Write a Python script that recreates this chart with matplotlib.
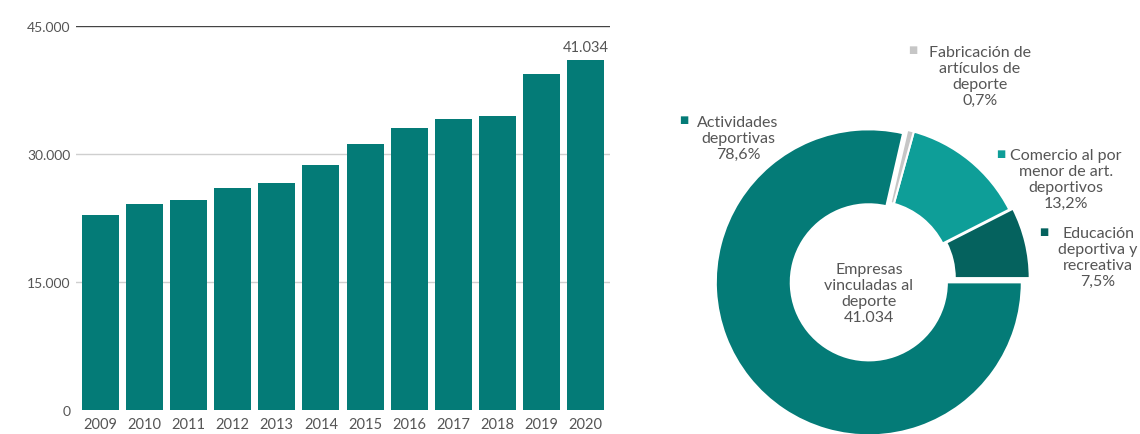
import matplotlib
matplotlib.use('Agg')
import matplotlib.pyplot as plt
from matplotlib.ticker import FuncFormatter

plt.rcParams['font.family'] = ['Lato', 'DejaVu Sans']

# datos
years = ['2009', '2010', '2011', '2012', '2013', '2014',
         '2015', '2016', '2017', '2018', '2019', '2020']
empresas = [22870, 24110, 24660, 25980, 26650, 28710,
            31130, 33070, 34160, 34510, 39420, 41034]
yticks = [0, 15000, 30000, 45000]

sectores = ['Educación\ndeportiva y\nrecreativa\n7,5%',
            'Comercio al por\nmenor de art.\ndeportivos\n13,2%',
            'Fabricación de\nartículos de\ndeporte\n0,7%',
            'Actividades\ndeportivas\n78,6%']
pct = [7.5, 13.2, 0.7, 78.6]
total_txt = 'Empresas\nvinculadas al\ndeporte\n41.034'

teal = '#047B77'
colores = ['#05625E', '#0E9E98', '#C6C6C6', teal]
txt = '#555555'
fs = 11.5
ls = 1.2

W, H = 1140, 435
fig = plt.figure(figsize=(W / 100, H / 100), dpi=100)

# barras
ax = fig.add_axes([76 / W, 24 / H, 534 / W, 384 / H])
ax.bar(range(len(years)), empresas, width=0.84, color=teal, zorder=3)
ax.set_xlim(-0.55, len(years) - 0.45)
ax.set_ylim(0, 45000)
ax.set_yticks(yticks)
ax.yaxis.set_major_formatter(FuncFormatter(lambda v, p: f'{int(v):,}'.replace(',', '.')))
ax.set_xticks(range(len(years)))
ax.set_xticklabels(years)
ax.tick_params(axis='both', length=0, colors=txt)
ax.tick_params(axis='x', pad=5, labelsize=10.5)
ax.tick_params(axis='y', pad=4, labelsize=10)
for s in ax.spines.values():
    s.set_visible(False)
for v in yticks[1:-1]:
    ax.axhline(v, color='#cfcfcf', lw=1, zorder=1)
ax.axhline(45000, color='#444444', lw=1, zorder=1)
ax.text(len(years) - 1, empresas[-1] + 700, '41.034', ha='center', va='bottom',
        fontsize=10.5, color=txt)

# anillo
R = 1.1
r_px = 153
cx0, cy0 = 873, 280
side = 2 * R * r_px
pax = fig.add_axes([(cx0 - side / 2) / W, (H - cy0 - side / 2) / H, side / W, side / H])
pax.pie(pct, colors=colores, startangle=0, counterclock=True,
        explode=[0.025, 0.0, 0.0, 0.035],
        wedgeprops=dict(width=0.49, edgecolor='white', linewidth=1.5))
pax.set_xlim(-R, R)
pax.set_ylim(-R, R)
pax.set_aspect('equal')
fig.text(869 / W, 1 - 294 / H, total_txt, ha='center', va='center', fontsize=fs,
         color=txt, linespacing=ls)

# etiquetas (centro del bloque de texto, posición del cuadrado)
etiquetas = [(1098, 258, 1044, 232), (1066, 180, 1001, 154),
             (980, 77, 913, 50), (738, 139, 684, 120)]
for lab, col, (cx, cy, sx, sy) in zip(sectores, colores, etiquetas):
    fig.text(cx / W, 1 - cy / H, lab, ha='center', va='center', fontsize=fs,
             color=txt, linespacing=ls)
    fig.text(sx / W, 1 - sy / H, '■', ha='center', va='center', fontsize=7,
             color=col, family='DejaVu Sans')

fig.savefig('out.png', dpi=100)
